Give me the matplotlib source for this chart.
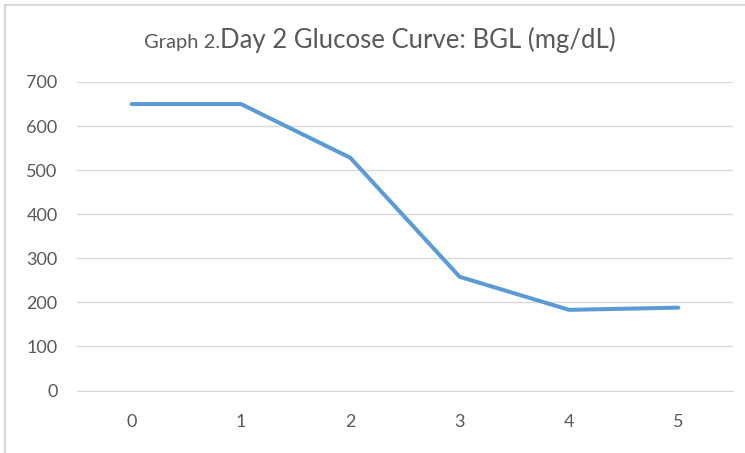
import matplotlib.pyplot as plt
from matplotlib.lines import Line2D

hours = [0, 1, 2, 3, 4, 5]
bgl = [650, 650, 528, 258, 183, 188]
yticks = [0, 100, 200, 300, 400, 500, 600, 700]

plt.rcParams['font.family'] = ['Lato', 'DejaVu Sans']

fig = plt.figure(figsize=(7.45, 4.53), dpi=100)
ax = fig.add_axes([77/745, 1 - 390.5/453, 656/745, 308.5/453])

x = list(range(len(hours)))
ax.plot(x, bgl, color='#5B9BD5', lw=2.9, solid_capstyle='round', solid_joinstyle='round', zorder=3)

ax.set_xlim(-0.5, len(hours) - 0.5)
ax.set_ylim(0, 700)
ax.set_xticks(x)
ax.set_xticklabels([str(h) for h in hours])
ax.set_yticks(yticks)
ax.grid(axis='y', color='#D9D9D9', lw=1)
ax.set_axisbelow(True)
for s in ['top', 'right', 'left']:
    ax.spines[s].set_visible(False)
ax.spines['bottom'].set_color('#D9D9D9')
ax.tick_params(length=0, labelcolor='#595959', labelsize=13)
ax.tick_params(axis='x', pad=17)
ax.tick_params(axis='y', pad=14)

# title in two sizes
fig.text(220/745, 1 - 48/453, 'Graph 2.', fontsize=14.5, color='#595959', ha='right', va='baseline')
fig.text(220/745, 1 - 48/453, 'Day 2 Glucose Curve: BGL (mg/dL)', fontsize=18.5, color='#595959', ha='left', va='baseline')

# chart area border (left and top only visible)
fig.add_artist(Line2D([5/745, 5/745], [0, 1 - 5/453], color='#D9D9D9', lw=1.5))
fig.add_artist(Line2D([5/745, 1], [1 - 5/453, 1 - 5/453], color='#D9D9D9', lw=1.5))

fig.savefig('out.png', dpi=100)
